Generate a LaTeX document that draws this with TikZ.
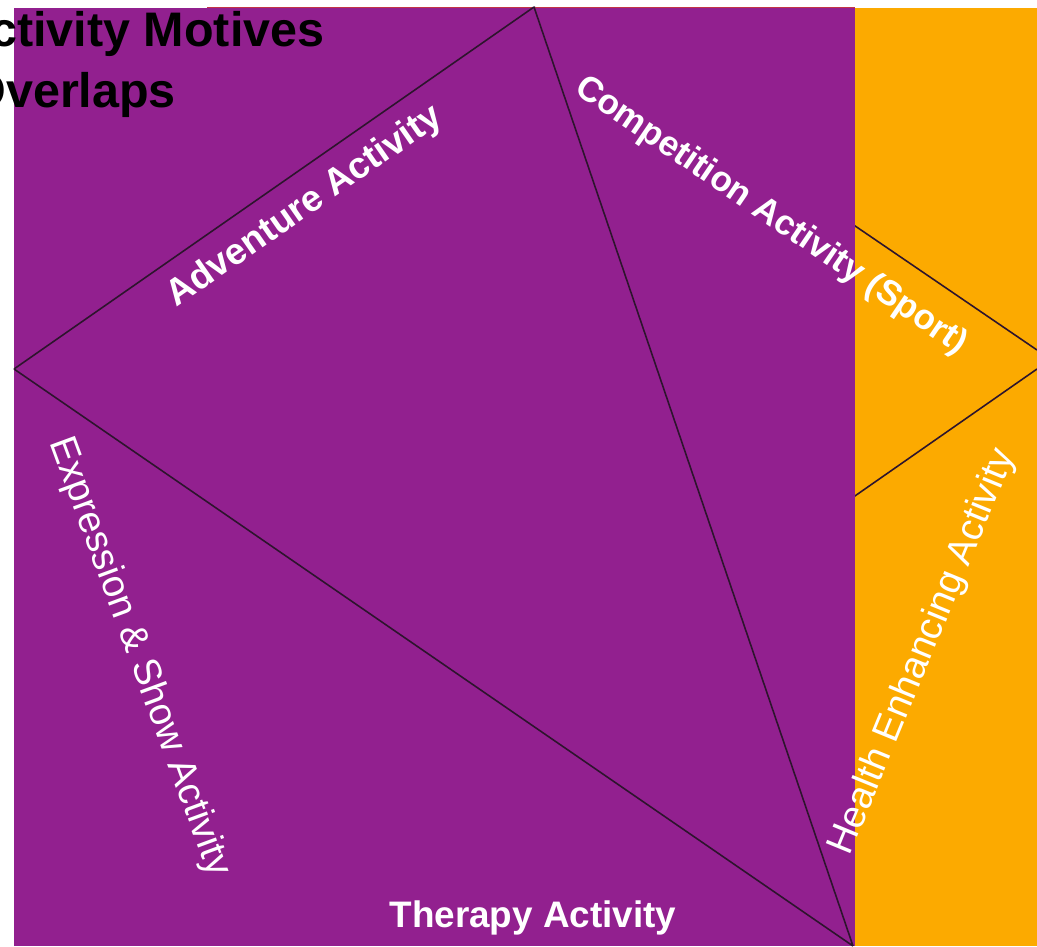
\documentclass[tikz,border=0pt]{standalone}
\usepackage{fontspec}
\setmainfont{Liberation Sans}
\usepackage{tikz}
\usetikzlibrary{positioning}
\definecolor{motpurple}{RGB}{146,32,143}
\definecolor{motorange}{RGB}{252,170,0}
\definecolor{motred}{RGB}{196,52,70}
\definecolor{motline}{RGB}{45,20,45}
\tikzstyle{ml}=[draw=motline, line width=0.9pt]
\tikzstyle{lab}=[text=white, font=\fontsize{21}{25}\selectfont\bfseries, inner sep=0pt]
\tikzstyle{labr}=[text=white, font=\fontsize{21.8}{26}\selectfont, inner sep=0pt]
\tikzstyle{ttl}=[text=black, font=\fontsize{27.6}{33}\selectfont\bfseries, inner sep=0pt, anchor=base west]

\begin{document}
\begin{tikzpicture}
[x=0.02cm, y=-0.02cm]
 \useasboundingbox (0,0) rectangle (1037,946);
 \clip (0,0) rectangle (1037,946);
 \coordinate (top) at (534,7);
 \coordinate (left) at (14,369);
 \coordinate (bottom) at (853,946);
 \coordinate (rtop) at (1037,350);
 \coordinate (rbot) at (1037,369);
 \coordinate (rlow) at (700,604);
 % back panel
 \fill[motorange] (855,8) rectangle (1037,946);
 \path[ml] (top) -- (rtop);
 \path[ml] (rbot) -- (rlow);
 % front panel
 \fill[motpurple] (14,8) rectangle (855,946);
 \draw[motred, line width=0.6pt] (207,7.5) -- (855,7.5);
 \path[ml]
   (top) -- (left)
   (left) -- (bottom)
   (bottom) -- (top);
 % labels
 \node[lab, rotate=34.8] (adv) at (305,207) {Adventure Activity};
 \node[lab, rotate=-34.3, font=\fontsize{20}{24}\selectfont\bfseries] (comp) at (771,216) {Competition Activity (Sport)};
 \node[labr, rotate=-69.8] (expr) at (139,657) {Expression \& Show Activity};
 \node[labr, rotate=67.7] (hlth) at (923,652) {Health Enhancing Activity};
 \node[lab] (ther) at (533,918) {Therapy Activity};
 \node[ttl] (title1) at (-45,47) {Activity Motives};
 \node[ttl] (title2) at (-32,108) {Overlaps};
\end{tikzpicture}
\end{document}
